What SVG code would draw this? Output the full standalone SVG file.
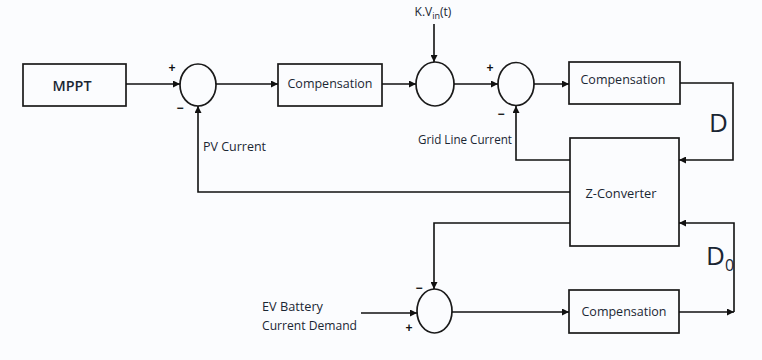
<svg xmlns="http://www.w3.org/2000/svg" width="762" height="360" viewBox="0 0 762 360">
<style>
.box{fill:none;stroke:#1a1a1a;stroke-width:1.7}
.sum{fill:none;stroke:#1a1a1a;stroke-width:1.7}
.ln{fill:none;stroke:#111;stroke-width:1.6}
.t{font-family:"Open Sans","Liberation Sans",sans-serif;font-size:12px;fill:#1a2633}
.c{text-anchor:middle}
.sg{font-family:"Liberation Sans",sans-serif;font-size:12px;font-weight:bold;fill:#111;text-anchor:middle}
.big{font-family:"Open Sans","Liberation Sans",sans-serif;font-size:26px;fill:#1a2633}
</style>
<defs>
<marker id="ah" viewBox="0 0 10 10" refX="10" refY="5" markerWidth="9" markerHeight="7" markerUnits="userSpaceOnUse" orient="auto">
<path d="M0,0 L10,5 L0,10 z" fill="#111"/>
</marker>
</defs>
<rect width="762" height="360" fill="#fbfcfe"/>
<g id="mppt"><rect class="box" x="23" y="64" width="103" height="42"/><text class="t c" x="72" y="91" style="font-size:15px;font-weight:600" textLength="39" lengthAdjust="spacingAndGlyphs">MPPT</text></g>
<g id="sum1"><ellipse class="sum" cx="198" cy="85" rx="18" ry="21"/><text class="sg" x="172" y="72">+</text><text class="sg" x="180" y="112">−</text></g>
<g id="comp1"><rect class="box" x="278" y="64" width="104" height="42"/><text class="t c" x="330" y="88" textLength="85" lengthAdjust="spacingAndGlyphs">Compensation</text></g>
<g id="kvin"><text class="t c" x="433" y="16">K.V<tspan dy="3" font-size="9">in</tspan><tspan dy="-3">(t)</tspan></text></g>
<g id="sum2"><ellipse class="sum" cx="435" cy="84" rx="19" ry="22"/></g>
<g id="sum3"><ellipse class="sum" cx="516" cy="84" rx="18" ry="21.5"/><text class="sg" x="490" y="72">+</text><text class="sg" x="501" y="118">−</text></g>
<g id="comp2"><rect class="box" x="569" y="62" width="111" height="42"/><text class="t c" x="623" y="84" textLength="85" lengthAdjust="spacingAndGlyphs">Compensation</text></g>
<g id="zconv"><rect class="box" x="570" y="138" width="109" height="108"/><text class="t c" x="621" y="198" textLength="71" lengthAdjust="spacingAndGlyphs">Z-Converter</text></g>
<g id="sum4"><ellipse class="sum" cx="434.5" cy="311" rx="17.5" ry="22"/><text class="sg" x="419" y="292">−</text><text class="sg" x="409" y="332">+</text></g>
<g id="comp3"><rect class="box" x="569" y="290" width="110" height="43"/><text class="t c" x="624" y="316" textLength="85" lengthAdjust="spacingAndGlyphs">Compensation</text></g>
<g id="labels">
<text class="t" x="203" y="151" textLength="63" lengthAdjust="spacingAndGlyphs">PV Current</text>
<text class="t" x="418" y="144" textLength="94" lengthAdjust="spacingAndGlyphs">Grid Line Current</text>
<text class="t" x="262" y="311" textLength="61" lengthAdjust="spacingAndGlyphs">EV Battery</text>
<text class="t" x="262" y="330" textLength="95" lengthAdjust="spacingAndGlyphs">Current Demand</text>
<text class="big" x="709" y="132">D</text>
<text class="big" x="706" y="265">D<tspan dy="6" font-size="16">0</tspan></text>
</g>
<g id="connectors">
<path class="ln" d="M126,84 H180" marker-end="url(#ah)"/>
<path class="ln" d="M216,84 H278" marker-end="url(#ah)"/>
<path class="ln" d="M382,84 H416" marker-end="url(#ah)"/>
<path class="ln" d="M434,24 V62" marker-end="url(#ah)"/>
<path class="ln" d="M454,84 H498" marker-end="url(#ah)"/>
<path class="ln" d="M534,84 H569" marker-end="url(#ah)"/>
<path class="ln" d="M680,83 H733 V160 H679" marker-end="url(#ah)"/>
<path class="ln" d="M570,160 H516 V106" marker-end="url(#ah)"/>
<path class="ln" d="M570,192 H198 V106" marker-end="url(#ah)"/>
<path class="ln" d="M570,223 H434 V289" marker-end="url(#ah)"/>
<path class="ln" d="M361,313 H417" marker-end="url(#ah)"/>
<path class="ln" d="M452,312 H569" marker-end="url(#ah)"/>
<path class="ln" d="M679,312 H734" marker-end="url(#ah)"/>
<path class="ln" d="M734,312 V223 H679" marker-end="url(#ah)"/>
</g>
</svg>
